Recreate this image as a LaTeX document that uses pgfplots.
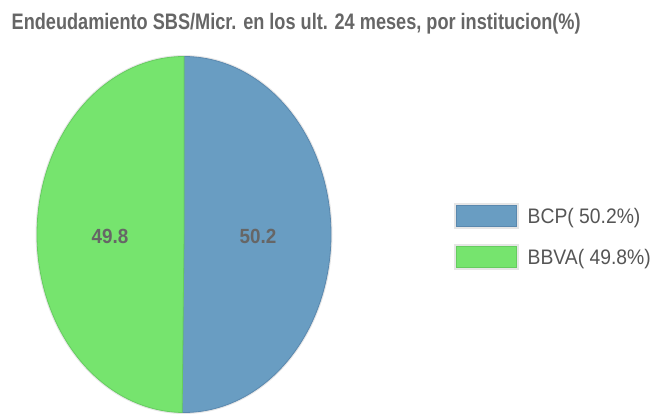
\documentclass[border=0pt]{standalone}
\usepackage{fontspec}
\setmainfont{Liberation Sans}
\newfontfamily\titlefont[FakeStretch=0.81]{Liberation Sans}
\newfontfamily\narrowfont[FakeStretch=0.92]{Liberation Sans}
\usepackage{pgfplots}
\pgfplotsset{compat=1.18}
\definecolor{bcpblue}{HTML}{699DC2}
\definecolor{bcpedge}{HTML}{5A88AE}
\definecolor{bbvagreen}{HTML}{76E46E}
\definecolor{bbvaedge}{HTML}{66CC60}
\definecolor{txtgray}{HTML}{666666}
\definecolor{legtxt}{HTML}{555555}
\definecolor{lightframe}{HTML}{E6E6E6}
\begin{document}
\begin{tikzpicture}
\pgfmathsetmacro{\bcp}{50.2}
\pgfmathsetmacro{\bbva}{49.8}
\pgfmathsetmacro{\aEnd}{90-3.6*\bcp}
\pgfmathsetmacro{\bStart}{\aEnd-3.6*\bbva}
\begin{axis}[
  scale only axis, width=665pt, height=415pt,
  xmin=0, xmax=665, ymin=0, ymax=415,
  hide axis, clip=true,
  legend style={at={(axis cs:454,212)}, anchor=north west, draw=none, fill=none,
    font=\narrowfont\fontsize{21}{24}\selectfont\color{legtxt}, row sep=15pt, column sep=7.5pt,
    inner sep=0pt, nodes={inner sep=1pt}},
  legend cell align=left,
  legend image code/.code={
    \draw[draw=lightframe, line width=2pt] (0pt,-12pt) rectangle (63pt,12pt);
    \draw[#1] (1.5pt,-10.5pt) rectangle (61.5pt,10.5pt);},
]
% soft outline
\addplot[forget plot, draw=lightframe, line width=3pt, domain=0:360, samples=200]
  ({184+147*cos(x)},{180.5+178*sin(x)});
\addplot[forget plot, fill=bcpblue, draw=bcpedge, line width=0.8pt, domain=\aEnd:90, samples=181]
  ({184+147*cos(x)},{180.5+178*sin(x)}) -- (axis cs:184,180.5) -- cycle;
\addplot[forget plot, fill=bbvagreen, draw=bbvaedge, line width=0.8pt, domain=\bStart:\aEnd, samples=181]
  ({184+147*cos(x)},{180.5+178*sin(x)}) -- (axis cs:184,180.5) -- cycle;
\addlegendimage{fill=bcpblue, draw=bcpedge, line width=1pt}
\addlegendimage{fill=bbvagreen, draw=bbvaedge, line width=1pt}
\legend{BCP( 50.2\%), BBVA( 49.8\%)}
\node[text=txtgray, font=\narrowfont\fontsize{20.5}{24}\selectfont\bfseries] at (axis cs:110,178.3) {49.8};
\node[text=txtgray, font=\narrowfont\fontsize{20.5}{24}\selectfont\bfseries] at (axis cs:258,178.3) {50.2};
\node[anchor=base west, inner sep=0pt, text=txtgray, font=\titlefont\fontsize{22.4}{26}\selectfont\bfseries] at (axis cs:11.5,385.5) {Endeudamiento SBS/Micr. en los ult. 24 meses, por institucion(\%)};
\end{axis}
\pgfresetboundingbox
\path[use as bounding box] (current axis.south west) rectangle (current axis.north east);
\end{tikzpicture}
\end{document}
